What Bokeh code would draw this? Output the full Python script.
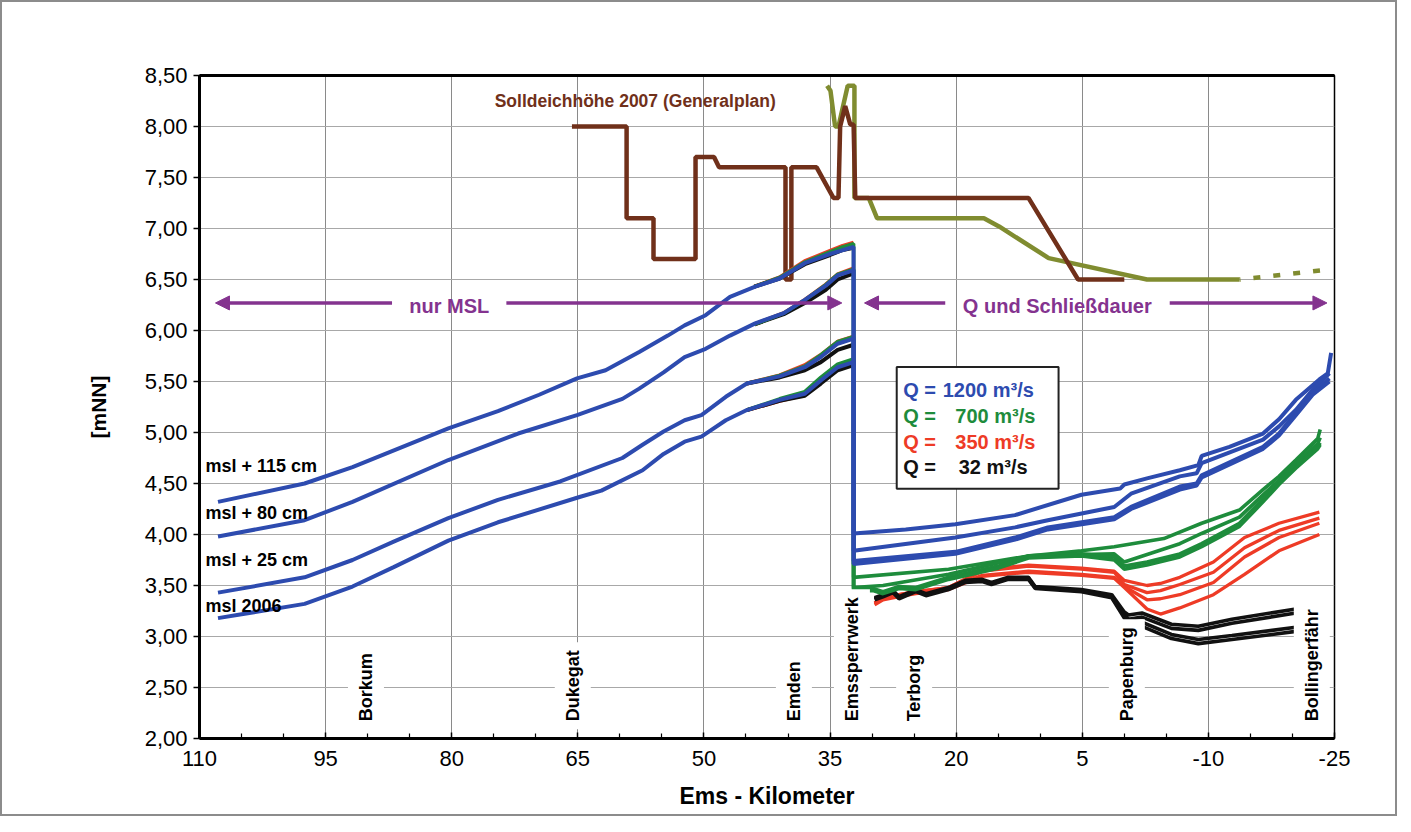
import numpy as np
from bokeh.plotting import figure
from bokeh.models import Range1d, FixedTicker, LinearAxis, Arrow, NormalHead, ColumnDataSource
from bokeh.core.properties import value
from bokeh.embed import file_html
from bokeh.resources import INLINE

FONT = "Liberation Sans"

# ---------------- axes ----------------
x_ticks = [110, 95, 80, 65, 50, 35, 20, 5, -10, -25]
x_tick_labels = ["110", "95", "80", "65", "50", "35", "20", "5", "-10", "-25"]
x_minor = [105, 100, 90, 85, 75, 70, 60, 55, 45, 40, 30, 25, 15, 10, 0, -5, -15, -20]
y_ticks = [2.0, 2.5, 3.0, 3.5, 4.0, 4.5, 5.0, 5.5, 6.0, 6.5, 7.0, 7.5, 8.0, 8.5]
y_tick_labels = ["2,00", "2,50", "3,00", "3,50", "4,00", "4,50", "5,00", "5,50",
                 "6,00", "6,50", "7,00", "7,50", "8,00", "8,50"]

# ---------------- dike heights ----------------
solldeich_km = [65.7, 59.2, 59.2, 56.0, 56.0, 51.0, 51.0, 48.8, 48.2, 40.3, 40.3, 39.6, 39.6,
                36.6, 34.6, 34.0, 33.8, 33.2, 32.6, 32.2, 32.0, 11.4, 5.5, 0.0]
solldeich_val = [8.00, 8.00, 7.10, 7.10, 6.70, 6.70, 7.70, 7.70, 7.60, 7.60, 6.50, 6.50, 7.60,
                 7.60, 7.30, 7.30, 8.00, 8.20, 8.02, 8.02, 7.30, 7.30, 6.50, 6.50]
deich_km = [35.35, 34.95, 34.4, 34.0, 32.9, 32.1, 32.1, 30.4, 29.4, 16.7, 14.9, 9.0, -2.7, -13.7]
deich_val = [8.40, 8.35, 8.00, 8.00, 8.40, 8.40, 7.30, 7.30, 7.10, 7.10, 7.02, 6.71, 6.50, 6.50]
deich_plan_km = [-13.7, -24.6]
deich_plan_val = [6.50, 6.60]

# ---------------- outer Ems (nur MSL) ----------------
msl115_km = [107.8, 97.5, 91.8, 80.4, 74.5, 69.6, 65.1, 61.7, 57.7, 54.3, 52.3, 49.8, 46.9, 43.9, 41.0, 38.0, 35.0, 32.2]
msl115_val = [4.32, 4.50, 4.66, 5.04, 5.21, 5.37, 5.53, 5.61, 5.79, 5.95, 6.05, 6.15, 6.33, 6.43, 6.51, 6.66, 6.75, 6.82]
msl80_km = [107.8, 97.5, 91.8, 80.4, 72.1, 65.1, 59.7, 57.7, 54.8, 52.3, 49.8, 46.9, 43.9, 40.5, 38.0, 35.5, 34.1, 32.2]
msl80_val = [3.98, 4.14, 4.32, 4.73, 4.99, 5.17, 5.33, 5.43, 5.59, 5.74, 5.82, 5.95, 6.07, 6.17, 6.30, 6.44, 6.54, 6.59]
msl25_km = [107.8, 97.5, 91.8, 86.9, 80.4, 74.5, 67.1, 59.7, 57.3, 54.8, 52.3, 50.3, 47.4, 44.9, 41.0, 38.0, 36.1, 34.1, 32.2]
msl25_val = [3.43, 3.58, 3.75, 3.93, 4.16, 4.34, 4.52, 4.75, 4.88, 5.01, 5.12, 5.17, 5.35, 5.48, 5.55, 5.64, 5.74, 5.87, 5.92]
msl06_km = [107.8, 97.5, 91.8, 86.9, 80.4, 74.5, 64.7, 62.2, 57.3, 54.8, 52.3, 50.3, 47.4, 44.9, 41.0, 38.0, 36.1, 34.1, 32.2]
msl06_val = [3.18, 3.32, 3.49, 3.68, 3.94, 4.12, 4.37, 4.43, 4.63, 4.79, 4.91, 4.96, 5.12, 5.22, 5.32, 5.38, 5.51, 5.64, 5.69]

# tails of the other discharge runs near the barrier (they lie under the blue lines elsewhere)
tail115_km = [44.0, 41.0, 38.0, 35.0, 33.5, 32.2]
tail115_red = [6.43, 6.52, 6.68, 6.78, 6.83, 6.86]
tail115_green = [6.43, 6.52, 6.67, 6.77, 6.82, 6.85]
tail115_black = [6.43, 6.51, 6.65, 6.74, 6.79, 6.81]
tail80_km = [44.0, 40.5, 38.0, 35.5, 34.1, 32.2]
tail80_red = [6.06, 6.17, 6.30, 6.45, 6.55, 6.61]
tail80_green = [6.06, 6.17, 6.30, 6.45, 6.55, 6.60]
tail80_black = [6.06, 6.16, 6.27, 6.40, 6.50, 6.56]
tail25_km = [44.9, 41.0, 38.0, 36.1, 34.1, 32.2]
tail25_red = [5.48, 5.56, 5.66, 5.76, 5.89, 5.94]
tail25_green = [5.48, 5.56, 5.65, 5.76, 5.89, 5.94]
tail25_black = [5.48, 5.54, 5.61, 5.69, 5.81, 5.86]
tail06_km = [44.9, 41.0, 38.0, 36.1, 34.1, 32.2]
tail06_red = [5.22, 5.31, 5.37, 5.50, 5.63, 5.68]
tail06_green = [5.22, 5.33, 5.40, 5.54, 5.67, 5.72]
tail06_black = [5.22, 5.31, 5.36, 5.48, 5.61, 5.66]

# ---------------- inner Ems (Q und Schliessdauer) ----------------
q1200_115_km = [32.2, 26.0, 20.1, 13.0, 5.1, 0.5, 0.0, -2.7, -6.6, -8.8, -9.2, -12.5, -16.5, -18.4, -20.4, -23.2, -24.2, -24.6]
q1200_115 = [4.01, 4.05, 4.10, 4.19, 4.39, 4.45, 4.49, 4.55, 4.63, 4.68, 4.77, 4.86, 4.99, 5.13, 5.32, 5.52, 5.58, 5.78]
q1200_km = [32.2, 20.1, 13.0, 9.1, 1.2, -0.8, -6.6, -8.6, -9.2, -16.5, -18.4, -20.4, -22.4, -24.4]
q1200_80 = [3.84, 3.97, 4.07, 4.14, 4.27, 4.40, 4.57, 4.60, 4.70, 4.93, 5.06, 5.22, 5.42, 5.58]
q1200_25 = [3.74, 3.83, 3.97, 4.07, 4.17, 4.27, 4.47, 4.50, 4.58, 4.86, 4.99, 5.19, 5.39, 5.53]
q1200_06 = [3.71, 3.81, 3.95, 4.05, 4.15, 4.25, 4.44, 4.48, 4.56, 4.84, 4.97, 5.17, 5.37, 5.50]

q700_115_km = [32.2, 20.9, 11.4, 5.1, 1.2, -4.7, -9.2, -13.7, -16.5, -18.4, -20.4, -23.0, -23.3]
q700_115 = [3.58, 3.66, 3.79, 3.84, 3.88, 3.96, 4.11, 4.24, 4.44, 4.57, 4.73, 4.94, 5.03]
q700_80_km = [32.2, 28.7, 20.9, 11.4, 1.2, 0.0, -6.6, -9.2, -13.7, -16.5, -18.4, -20.4, -23.0, -23.3]
q700_80 = [3.48, 3.50, 3.61, 3.79, 3.81, 3.73, 3.91, 4.01, 4.17, 4.39, 4.53, 4.70, 4.89, 4.95]
q700_km = [32.2, 29.9, 28.7, 26.8, 24.8, 20.9, 15.0, 11.4, 5.1, 1.2, 0.0, -2.7, -6.6, -9.2, -13.7, -16.5, -18.4, -20.4, -23.0, -23.3]
q700_25 = [3.46, 3.47, 3.44, 3.49, 3.48, 3.58, 3.69, 3.79, 3.81, 3.78, 3.69, 3.73, 3.81, 3.91, 4.11, 4.35, 4.52, 4.67, 4.86, 4.90]
q700_06 = [3.45, 3.45, 3.42, 3.47, 3.46, 3.56, 3.67, 3.77, 3.79, 3.75, 3.66, 3.70, 3.78, 3.88, 4.08, 4.32, 4.49, 4.65, 4.84, 4.88]

q350_km = [29.7, 28.7, 26.8, 24.8, 20.9, 16.9, 11.4, 5.1, 1.2, 0.0, -2.7, -4.3, -6.6, -10.6, -14.3, -18.4, -23.2]
q350_115 = [3.33, 3.38, 3.41, 3.44, 3.48, 3.65, 3.70, 3.67, 3.64, 3.55, 3.50, 3.52, 3.58, 3.73, 3.97, 4.11, 4.22]
q350_80 = [3.33, 3.38, 3.41, 3.44, 3.48, 3.64, 3.69, 3.66, 3.63, 3.51, 3.43, 3.45, 3.51, 3.63, 3.87, 4.04, 4.16]
q350_25 = [3.32, 3.37, 3.40, 3.43, 3.47, 3.60, 3.64, 3.61, 3.58, 3.49, 3.36, 3.37, 3.41, 3.53, 3.78, 3.97, 4.11]
q350_06 = [3.31, 3.36, 3.39, 3.42, 3.46, 3.59, 3.63, 3.60, 3.57, 3.48, 3.27, 3.22, 3.28, 3.41, 3.61, 3.84, 4.00]

q32_km = [29.7, 28.7, 27.5, 26.8, 24.8, 23.6, 20.9, 18.9, 16.9, 15.8, 13.8, 11.4, 10.6, 5.1, 1.5, 0.0, -0.5, -2.1, -5.6, -8.8, -12.8, -20.4]
q32_115 = [3.38, 3.41, 3.45, 3.39, 3.46, 3.42, 3.48, 3.55, 3.56, 3.53, 3.58, 3.58, 3.49, 3.46, 3.41, 3.24, 3.21, 3.23, 3.12, 3.10, 3.17, 3.27]
q32_80 = [3.37, 3.40, 3.44, 3.38, 3.45, 3.41, 3.47, 3.54, 3.55, 3.52, 3.57, 3.57, 3.48, 3.45, 3.40, 3.21, 3.17, 3.19, 3.08, 3.06, 3.13, 3.23]
q32_25 = [3.37, 3.40, 3.44, 3.38, 3.45, 3.41, 3.47, 3.54, 3.55, 3.52, 3.57, 3.57, 3.48, 3.45, 3.39, 3.20, 3.15, 3.14, 3.02, 2.97, 3.01, 3.09]
q32_06 = [3.36, 3.39, 3.43, 3.37, 3.44, 3.40, 3.46, 3.53, 3.54, 3.51, 3.56, 3.56, 3.47, 3.44, 3.38, 3.18, 3.13, 3.10, 2.98, 2.93, 2.97, 3.05]

# ---------------- texts ----------------
stations = ["Borkum", "Dukegat", "Emden", "Emssperrwerk", "Terborg", "Papenburg", "Bollingerfähr"]
station_km = [90.2, 65.6, 39.3, 32.4, 25.0, -0.3, -22.3]
scenario_labels = ["msl + 115 cm", "msl + 80 cm", "msl + 25 cm", "msl 2006"]
scenario_label_y = [4.67, 4.21, 3.75, 3.30]
q_labels = ["1200 m³/s", "700 m³/s", "350 m³/s", "32 m³/s"]
q_label_x = [21.6, 20.1, 20.1, 19.7]
q_label_y = [5.42, 5.165, 4.91, 4.665]

BLUE = "#2D4BAF"
GREEN = "#1E8C3C"
RED = "#EE3B26"
BLACK = "#111111"
BROWN = "#70301A"
OLIVE = "#808C30"
PURPLE = "#84338F"

p = figure(width=1397, height=816, x_range=Range1d(110, -25), y_range=Range1d(2.0, 8.5),
           output_backend="svg", toolbar_location=None,
           min_border_left=197, min_border_right=65, min_border_top=73, min_border_bottom=80,
           background_fill_color="white", border_fill_color="white")
p.styles = {"border": "2px solid #8c8c8c"}
p.outline_line_color = "black"
p.outline_line_width = 1.5

# grid
p.xgrid.ticker = FixedTicker(ticks=x_ticks)
p.ygrid.ticker = FixedTicker(ticks=y_ticks)
p.xgrid.grid_line_color = "#8a8a8a"
p.ygrid.grid_line_color = "#a8a8a8"
p.xgrid.grid_line_width = 1
p.ygrid.grid_line_width = 1

# x axis
xa = p.xaxis[0]
xa.ticker = FixedTicker(ticks=x_ticks, minor_ticks=x_minor)
xa.major_label_overrides = {t: l for t, l in zip(x_ticks, x_tick_labels)}
xa.axis_line_width = 3
xa.axis_line_color = "black"
xa.major_tick_in = 6
xa.major_tick_out = 0
xa.minor_tick_in = 5
xa.minor_tick_out = 0
xa.major_tick_line_width = 1.5
xa.minor_tick_line_width = 1.2
xa.major_label_standoff = 12
xa.major_label_text_font = FONT
xa.major_label_text_font_size = "22px"
xa.major_label_text_color = "black"
xa.axis_label = "Ems - Kilometer"
xa.axis_label_text_font = FONT
xa.axis_label_text_font_style = "bold"
xa.axis_label_text_font_size = "23px"
xa.axis_label_text_color = "black"
xa.axis_label_standoff = 14

# y axis
ya = p.yaxis[0]
ya.ticker = FixedTicker(ticks=y_ticks, minor_ticks=[])
ya.major_label_overrides = {t: l for t, l in zip(y_ticks, y_tick_labels)}
ya.axis_line_width = 3
ya.axis_line_color = "black"
ya.major_tick_in = 0
ya.major_tick_out = 6
ya.minor_tick_in = 0
ya.minor_tick_out = 0
ya.major_tick_line_width = 1.5
ya.major_label_standoff = 6
ya.major_label_text_font = FONT
ya.major_label_text_font_size = "22px"
ya.major_label_text_color = "black"
ya.axis_label = "[mNN]"
ya.axis_label_text_font = FONT
ya.axis_label_text_font_style = "bold"
ya.axis_label_text_font_size = "21px"
ya.axis_label_text_color = "black"
ya.axis_label_standoff = 32

# thick top border line
top_axis = LinearAxis(ticker=FixedTicker(ticks=[]), axis_line_width=3, axis_line_color="black",
                      major_tick_in=0, major_tick_out=0, minor_tick_in=0, minor_tick_out=0,
                      major_label_text_font_size="0px")
p.add_layout(top_axis, "above")

# dike heights
p.line(deich_km, deich_val, line_color=OLIVE, line_width=4.5)
p.line(deich_plan_km, deich_plan_val, line_color=OLIVE, line_width=4.5, line_dash="7 13", line_dash_offset=-14)
p.line(solldeich_km, solldeich_val, line_color=BROWN, line_width=4.5)

# left tails of red / black runs
for km, vals in [(tail115_km, tail115_red), (tail80_km, tail80_red), (tail25_km, tail25_red), (tail06_km, tail06_red)]:
    p.line(km, vals, line_color=RED, line_width=4)
for km, vals in [(tail115_km, tail115_black), (tail80_km, tail80_black), (tail25_km, tail25_black), (tail06_km, tail06_black)]:
    p.line(km, vals, line_color=BLACK, line_width=4)

# inner Ems red and black
for vals in [q350_115, q350_80, q350_25, q350_06]:
    p.line(q350_km, vals, line_color=RED, line_width=3.3)
for vals in [q32_115, q32_80, q32_25, q32_06]:
    p.line(q32_km, vals, line_color=BLACK, line_width=3.6)

# green: tail near barrier + inner section
green_runs = [
    (tail115_km + q700_115_km, tail115_green + q700_115),
    (tail80_km + q700_80_km, tail80_green + q700_80),
    (tail25_km + q700_km, tail25_green + q700_25),
    (tail06_km + q700_km, tail06_green + q700_06),
]
for km, vals in green_runs:
    p.line(km, vals, line_color=GREEN, line_width=3.6)

# blue: outer section + inner section
blue_runs = [
    (msl115_km + q1200_115_km, msl115_val + q1200_115),
    (msl80_km + q1200_km, msl80_val + q1200_80),
    (msl25_km + q1200_km, msl25_val + q1200_25),
    (msl06_km + q1200_km, msl06_val + q1200_06),
]
for km, vals in blue_runs:
    p.line(km, vals, line_color=BLUE, line_width=4)

# station names (vertical, white background)
st_src = ColumnDataSource(dict(x=station_km, y=[2.09] * len(stations), text=stations))
p.text(x="x", y="y", text="text", source=st_src, angle=np.pi / 2, text_align="left",
       text_baseline="middle", text_font=value(FONT), text_font_style="bold",
       text_font_size="18px", text_color="black", background_fill_color="white", padding=8)

# scenario labels
p.text(x=[109.3] * 4, y=scenario_label_y, text=scenario_labels, text_align="left",
       text_baseline="middle", text_font=value(FONT), text_font_style="bold",
       text_font_size="18px", text_color="black")

# dike label
p.text(x=[41.46], y=[8.25], text=["Solldeichhöhe 2007 (Generalplan)"], text_align="right",
       text_baseline="middle", text_font=value(FONT), text_font_style="bold",
       text_font_size="17.5px", text_color=BROWN)

# region arrows
for xs, xe in [(87.1, 108.1), (73.5, 33.6), (21.3, 30.9), (-5.4, -24.1)]:
    p.add_layout(Arrow(end=NormalHead(size=14, fill_color=PURPLE, line_color=PURPLE),
                       x_start=xs, y_start=6.27, x_end=xe, y_end=6.27,
                       line_color=PURPLE, line_width=3.5))
p.text(x=[80.3, 7.97], y=[6.24, 6.24], text=["nur MSL", "Q und Schließdauer"], text_align="center",
       text_baseline="middle", text_font=value(FONT), text_font_style="bold",
       text_font_size="20px", text_color=PURPLE)

# discharge legend box
p.quad(left=[27.07], right=[7.82], bottom=[4.449], top=[5.642], fill_color="white",
       line_color="#222222", line_width=2)
q_colors = [BLUE, GREEN, RED, BLACK]
p.text(x=[26.3] * 4, y=q_label_y, text=["Q ="] * 4, text_align="left", text_baseline="middle",
       text_font=value(FONT), text_font_style="bold", text_font_size="20px", text_color=q_colors)
p.text(x=q_label_x, y=q_label_y, text=q_labels, text_align="left", text_baseline="middle",
       text_font=value(FONT), text_font_style="bold", text_font_size="20px", text_color=q_colors)

open("out.html", "w").write(file_html(p, INLINE))
